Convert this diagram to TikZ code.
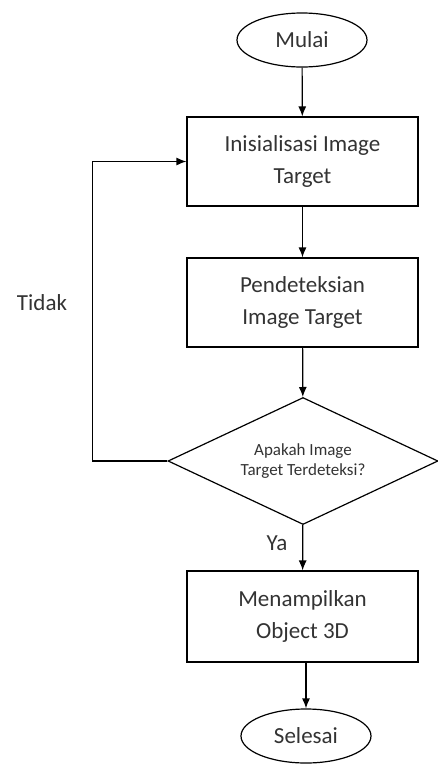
\documentclass[tikz,border=0pt]{standalone}
\usepackage{fontspec}
\setmainfont{Carlito}
\usetikzlibrary{arrows.meta,shapes.geometric}
\begin{document}
\begin{tikzpicture}[x=1pt,y=-1pt,line width=1.2pt,
  every node/.style={font=\fontsize{23}{32}\selectfont,text=black!80},
  terminal/.style={draw,ellipse,minimum width=130pt,minimum height=54pt,inner sep=0pt},
  process/.style={draw,rectangle,align=center,minimum width=231pt,minimum height=89pt,inner sep=0pt},
  decision/.style={draw,diamond,aspect=2.1,align=center,minimum width=270pt,minimum height=127pt,inner sep=0pt,
    font=\fontsize{17}{20}\selectfont},
  arrow/.style={-{Latex[length=10pt,width=8pt]}}]
\useasboundingbox (0,0) rectangle (438,764);
\node[terminal] (mulai) at (302,40) {Mulai};
\node[process] (init) at (302.5,161.5) {Inisialisasi Image\\Target};
\node[process] (deteksi) at (302.5,302.5) {Pendeteksian\\Image Target};
\node[decision] (cek) at (303,461) {Apakah Image\\Target Terdeteksi?};
\node[process,minimum height=91pt] (tampil) at (302.5,616.5) {Menampilkan\\Object 3D};
\node[terminal] (selesai) at (306,736) {Selesai};
\node (tidak) at (42,303) {Tidak};
\node (ya) at (277,543) {Ya};
\draw[arrow] (mulai) -- (init);
\draw[arrow] (init) -- (deteksi);
\draw[arrow] (deteksi) -- (cek);
\draw[arrow] (cek) -- (tampil);
\draw[arrow] (selesai.north |- tampil.south) -- (selesai);
\draw[arrow] (cek.west) -- ++(-75,0) |- (init.west);
\end{tikzpicture}
\end{document}
